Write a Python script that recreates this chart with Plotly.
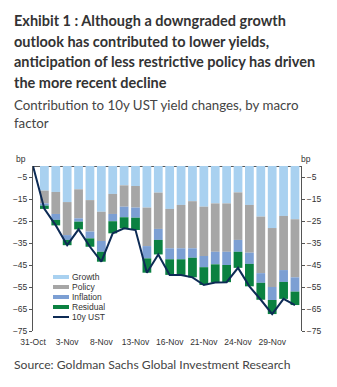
import plotly.graph_objects as go

# ---- data (bp) ----
dates = ["31-Oct", "1-Nov", "2-Nov", "3-Nov", "6-Nov", "7-Nov", "8-Nov", "9-Nov", "10-Nov",
         "13-Nov", "14-Nov", "15-Nov", "16-Nov", "17-Nov", "20-Nov", "21-Nov", "22-Nov",
         "23-Nov", "24-Nov", "27-Nov", "28-Nov", "29-Nov", "30-Nov", "1-Dec"]
growth = [0, -11.2, -11.8, -16.4, -10.6, -15.5, -20.8, -12.7, -8.8, -9.1, -18.9, -12.1,
          -19.5, -17.7, -16.0, -18.5, -17.0, -17.0, -12.0, -17.7, -23.0, -28.2, -22.7, -24.2]
policy = [0, -5.8, -10.0, -15.0, -13.2, -14.3, -13.3, -9.1, -9.7, -9.8, -17.5, -16.5,
          -17.9, -19.7, -21.4, -22.4, -22.0, -22.0, -21.6, -21.7, -25.7, -26.8, -24.6, -26.4]
inflation = [0, -1.0, -2.7, -2.2, -1.5, -3.1, -4.9, -3.3, -4.8, -4.6, -5.6, -5.0,
             -5.0, -5.0, -4.3, -5.1, -5.7, -6.0, -5.4, -5.1, -4.4, -5.9, -5.4, -6.5]
residual = [0, -1.5, -2.5, -2.4, -3.5, -3.8, -4.5, -5.5, -5.0, -5.6, -6.5, -6.6,
            -7.1, -7.1, -8.9, -8.1, -8.3, -7.8, -7.3, -10.2, -7.7, -6.4, -7.7, -6.1]
ust10y = [0, -19.5, -27.0, -36.0, -28.8, -36.7, -43.5, -30.6, -28.3, -29.1, -48.5, -40.2,
          -49.5, -49.5, -50.6, -54.1, -53.0, -52.8, -46.3, -54.7, -60.8, -67.3, -60.4, -63.2]

tick_labels = ["31-Oct", "3-Nov", "8-Nov", "13-Nov", "16-Nov", "21-Nov", "24-Nov", "29-Nov"]
y_ticks = [-5, -15, -25, -35, -45, -55, -65, -75]

series_names = ["Growth", "Policy", "Inflation", "Residual", "10y UST"]
series_colors = ["#a9d1f0", "#a6a6a6", "#7c9fd3", "#0b8141", "#0d2b55"]

title_lines = ["Exhibit 1 : Although a downgraded growth",
               "outlook has contributed to lower yields,",
               "anticipation of less restrictive policy has driven",
               "the more recent decline"]
subtitle_lines = ["Contribution to 10y UST yield changes, by macro", "factor"]
source_text = "Source: Goldman Sachs Global Investment Research"

x = list(range(len(dates)))
tick_idx = [dates.index(t) for t in tick_labels]

FONT = "Lato, Roboto, sans-serif"
SMALL = "Liberation Sans, Arial, sans-serif"
TICKFONT = dict(family=SMALL, size=8.5, color="#333333")

fig = go.Figure()
for name, vals, col in zip(series_names[:4], [growth, policy, inflation, residual], series_colors[:4]):
    fig.add_trace(go.Bar(x=x, y=vals, name=name, marker=dict(color=col, line=dict(width=0)),
                         showlegend=False, hoverinfo="skip"))
fig.add_trace(go.Scatter(x=x, y=ust10y, name="10y UST", mode="lines",
                         line=dict(color=series_colors[4], width=2), showlegend=False))
fig.add_trace(go.Scatter(x=[None], y=[None], yaxis="y2", showlegend=False, hoverinfo="skip"))

W, H = 337, 387
L, R, T, B = 33, 36, 166, 56
pw, ph = W - L - R, H - T - B

def px(xp):
    return (xp - L) / pw

def py(yp):
    return (H - B - yp) / ph

axis_common = dict(range=[-75, 0], tickvals=y_ticks, showgrid=False, showline=True,
                   linecolor="#555555", linewidth=1, ticks="outside", ticklen=3,
                   tickcolor="#555555", tickfont=TICKFONT)

fig.update_layout(
    width=W, height=H, margin=dict(l=L, r=R, t=T, b=B),
    paper_bgcolor="white", plot_bgcolor="white",
    barmode="relative", bargap=0.23,
    showlegend=False,
    xaxis=dict(range=[0, 23.53], tickvals=tick_idx, ticktext=tick_labels, showgrid=False,
               zeroline=False, showline=False, ticks="", tickfont=TICKFONT, ticklabelstandoff=4),
    yaxis=dict(zeroline=True, zerolinecolor="#555555", zerolinewidth=1, **axis_common),
    yaxis2=dict(overlaying="y", side="right", zeroline=False, **axis_common),
)

ann = []
title_y = [10, 30.5, 51, 71.5]
for line, yy in zip(title_lines, title_y):
    ann.append(dict(text="<b>" + line + "</b>", x=px(12), y=py(yy), xref="paper", yref="paper",
                    xanchor="left", yanchor="top", align="left", showarrow=False,
                    font=dict(family=FONT, size=14.5, color="#333333")))
for line, yy in zip(subtitle_lines, [95, 113]):
    ann.append(dict(text=line, x=px(12), y=py(yy), xref="paper", yref="paper", xanchor="left",
                    yanchor="top", align="left", showarrow=False,
                    font=dict(family=FONT, size=13.3, color="#444444")))
ann.append(dict(text=source_text, x=px(12), y=py(355), xref="paper", yref="paper", xanchor="left",
                yanchor="top", align="left", showarrow=False,
                font=dict(family=FONT, size=12.2, color="#444444")))
for xx in (21, 306):
    ann.append(dict(text="bp", x=px(xx), y=py(159), xref="paper", yref="paper", xanchor="center",
                    yanchor="middle", showarrow=False, font=TICKFONT))

shapes = []
row_y = [277, 287, 297, 307, 317]
for i, (name, col) in enumerate(zip(series_names, series_colors)):
    yy = py(row_y[i])
    shapes.append(dict(type="line", xref="paper", yref="paper", x0=px(53), x1=px(69), y0=yy, y1=yy,
                       line=dict(color=col, width=4 if i < 4 else 2)))
    ann.append(dict(text=name, x=px(70), y=yy, xref="paper", yref="paper", xanchor="left",
                    yanchor="middle", showarrow=False, font=TICKFONT))

fig.update_layout(annotations=ann, shapes=shapes)
fig.write_html("out.html")
